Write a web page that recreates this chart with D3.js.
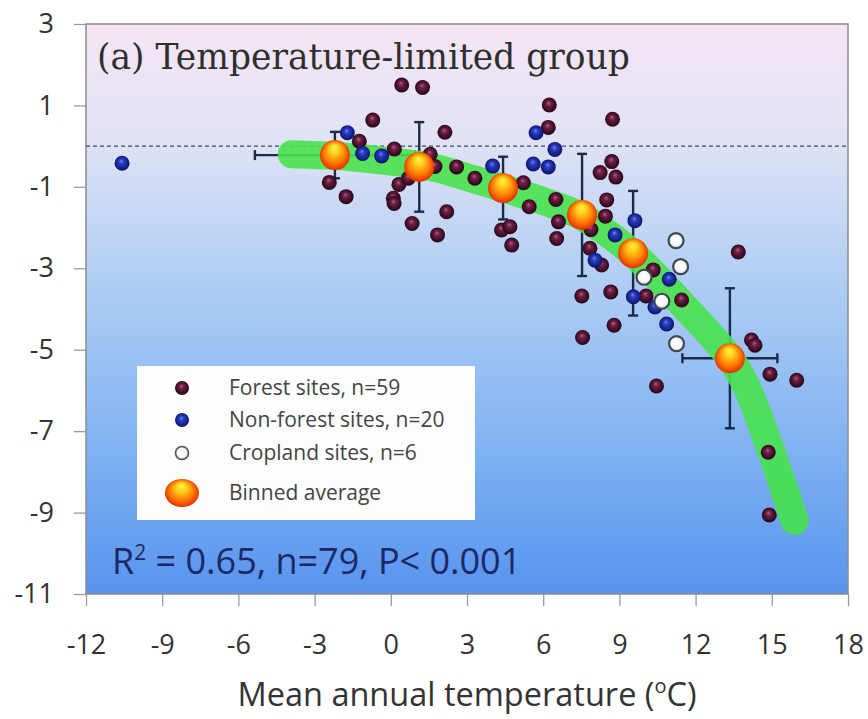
<!DOCTYPE html>
<html>
<head>
<meta charset="utf-8">
<script src="https://cdn.jsdelivr.net/npm/d3@7"></script>
<style>
  body { margin: 0; background: #ffffff; }
  svg { display: block; }
</style>
</head>
<body>
<svg id="chart" width="868" height="719"></svg>
<script>
// ---- data ----
const xTickValues = [-12, -9, -6, -3, 0, 3, 6, 9, 12, 15, 18];
const yTickValues = [3, 1, -1, -3, -5, -7, -9, -11];

// forest sites (mean annual temperature, response)
const forestX = [0.43, 1.25, -0.71, -1.24, 0.14, -2.42, -1.76, 0.32, 0.10, 0.13, 0.84, 1.84, 2.13, 1.55, 2.59, 3.31, 2.20,
  6.24, 8.73, 6.20, 5.22, 6.50, 5.45, 4.36, 4.69, 4.76, 6.60, 6.53, 8.24, 8.70, 8.86, 8.50, 8.45, 7.88, 7.84, 8.30,
  10.33, 7.52, 8.66, 10.05, 11.45, 8.79, 7.55, 10.46, 13.68, 14.20, 14.34, 14.93, 15.98, 14.86, 14.90, 0.69, 1.74];
const forestY = [1.50, 1.44, 0.64, 0.12, -0.07, -0.89, -1.24, -0.94, -1.28, -1.41, -1.90, -2.18, 0.34, -0.20, -0.51, -0.79, -1.61,
  1.01, 0.66, 0.46, -0.90, -1.31, -1.49, -2.06, -1.98, -2.43, -1.86, -2.27, -0.65, -0.38, -0.76, -1.32, -1.72, -2.05, -2.51, -2.92,
  -3.04, -3.68, -3.58, -3.68, -3.78, -4.40, -4.70, -5.89, -2.60, -4.76, -4.89, -5.60, -5.75, -7.52, -9.06, -0.79, -0.50];

// non-forest sites
const nonForestX = [-10.58, -1.71, -1.11, -0.36, 5.72, 6.46, 5.61, 6.20, 4.01, 8.83, 9.61, 8.04, 10.96, 9.55, 10.40, 10.86];
const nonForestY = [-0.42, 0.33, -0.18, -0.24, 0.33, -0.08, -0.44, -0.51, -0.49, -2.18, -1.83, -2.80, -3.27, -3.70, -3.95, -4.37];

// cropland sites
const cropX = [11.23, 11.41, 9.97, 10.67, 11.25];
const cropY = [-2.32, -2.96, -3.22, -3.81, -4.85];

// binned averages with error bars
const binX = [-2.20, 1.12, 4.42, 7.53, 9.54, 13.35];
const binY = [-0.22, -0.51, -1.03, -1.69, -2.63, -5.21];
const binXErr = [3.15, 0, 0, 0, 0, 1.87];
const binYErr = [0.57, 1.10, 0.77, 1.50, 1.53, 1.72];

// fitted trend (green band)
const fitX = [-3.9, -2.0, 0.0, 1.5, 3.3, 4.4, 6.0, 7.5, 9.5, 11.5, 13.35, 14.0, 15.0, 15.9];
const fitY = [-0.20, -0.25, -0.38, -0.50, -0.82, -1.03, -1.35, -1.72, -2.62, -3.90, -5.20, -5.90, -7.54, -9.20];

const legendLabels = ["Forest sites, n=59", "Non-forest sites, n=20", "Cropland sites, n=6", "Binned average"];

// ---- layout ----
const svg = d3.select("#chart");
const plotL = 86, plotR = 848, plotT = 24, plotB = 594;
const x = d3.scaleLinear().domain([-12, 18]).range([plotL, plotR]);
const y = d3.scaleLinear().domain([-11, 3]).range([plotB, plotT]);

const defs = svg.append("defs");

// plot background gradient
const bg = defs.append("linearGradient").attr("id", "bgGrad")
  .attr("x1", 0).attr("y1", 0).attr("x2", 0).attr("y2", 1);
[[0, "#f6e5f4"], [0.2, "#e0e3f5"], [0.45, "#b0cef4"], [0.75, "#7fb2f2"], [1, "#5893ee"]]
  .forEach(([o, c]) => bg.append("stop").attr("offset", o).attr("stop-color", c));

function sphere(id, stops, fx, fy) {
  const g = defs.append("radialGradient").attr("id", id)
    .attr("cx", "50%").attr("cy", "50%").attr("r", "55%")
    .attr("fx", fx).attr("fy", fy);
  stops.forEach(([o, c]) => g.append("stop").attr("offset", o).attr("stop-color", c));
}
sphere("forestGrad", [[0, "#b8607e"], [0.3, "#6e2044"], [0.75, "#3a0c24"], [1, "#1e0612"]], "45%", "35%");
sphere("blueGrad", [[0, "#6d86ee"], [0.3, "#2a3cc0"], [0.75, "#141f88"], [1, "#0a0f4c"]], "45%", "35%");
sphere("cropGrad", [[0, "#ffffff"], [0.6, "#f7f7f7"], [1, "#cfd3d6"]], "45%", "40%");
sphere("binGrad", [[0, "#fff44a"], [0.3, "#ffcc1a"], [0.65, "#ff7a06"], [0.9, "#e83a00"], [1, "#c02400"]], "48%", "22%");

// background
svg.append("rect").attr("x", plotL).attr("y", plotT)
  .attr("width", plotR - plotL).attr("height", plotB - plotT)
  .attr("fill", "url(#bgGrad)");

// axes
const xAxis = svg.append("g").attr("transform", `translate(0,${plotB})`)
  .call(d3.axisBottom(x).tickValues(xTickValues).tickSize(12).tickPadding(29));
const yAxis = svg.append("g").attr("transform", `translate(${plotL},0)`)
  .call(d3.axisLeft(y).tickValues(yTickValues).tickSize(12).tickPadding(20));
[xAxis, yAxis].forEach(a => {
  a.select(".domain").remove();
  a.selectAll(".tick line").attr("stroke", "#9a9a9a").attr("stroke-width", 1.3);
  a.selectAll(".tick text").attr("fill", "#333333")
    .style("font-family", "'Open Sans', sans-serif").style("font-size", "27px")
    .text(d => d < 0 ? "-" + Math.abs(d) : String(d));
});

// frame
svg.append("rect").attr("x", plotL).attr("y", plotT)
  .attr("width", plotR - plotL).attr("height", plotB - plotT)
  .attr("fill", "none").attr("stroke", "#8c8c8c").attr("stroke-width", 1.5);

// zero reference line
svg.append("line")
  .attr("x1", plotL).attr("x2", plotR).attr("y1", y(0)).attr("y2", y(0))
  .attr("stroke", "#3c4a6a").attr("stroke-width", 1.2).attr("stroke-dasharray", "4,3");

// error bars
const errColor = "#1c2a48", cap = 5;
const eb = svg.append("g").attr("stroke", errColor).attr("stroke-width", 2.4);
binX.forEach((bx, i) => {
  const cx = x(bx), cy = y(binY[i]);
  if (binYErr[i] > 0) {
    const y1 = y(binY[i] + binYErr[i]), y2 = y(binY[i] - binYErr[i]);
    eb.append("line").attr("x1", cx).attr("x2", cx).attr("y1", y1).attr("y2", y2);
    eb.append("line").attr("x1", cx - cap).attr("x2", cx + cap).attr("y1", y1).attr("y2", y1);
    eb.append("line").attr("x1", cx - cap).attr("x2", cx + cap).attr("y1", y2).attr("y2", y2);
  }
  if (binXErr[i] > 0) {
    const x1 = x(bx - binXErr[i]), x2 = x(bx + binXErr[i]);
    eb.append("line").attr("x1", x1).attr("x2", x2).attr("y1", cy).attr("y2", cy);
    eb.append("line").attr("x1", x1).attr("x2", x1).attr("y1", cy - cap).attr("y2", cy + cap);
    eb.append("line").attr("x1", x2).attr("x2", x2).attr("y1", cy - cap).attr("y2", cy + cap);
  }
});

// fitted band
const fitLine = d3.line().x(d => x(d[0])).y(d => y(d[1])).curve(d3.curveCatmullRom);
svg.append("path")
  .attr("d", fitLine(fitX.map((v, i) => [v, fitY[i]])))
  .attr("fill", "none").attr("stroke", "#48e24c").attr("stroke-opacity", 0.9)
  .attr("stroke-width", 28).attr("stroke-linecap", "round").attr("stroke-linejoin", "round");

// site points
const r = 7.5;
function drawPoints(xs, ys, fill, stroke, sw) {
  svg.append("g").selectAll("circle").data(xs.map((v, i) => [v, ys[i]])).join("circle")
    .attr("cx", d => x(d[0])).attr("cy", d => y(d[1])).attr("r", r)
    .attr("fill", fill).attr("stroke", stroke).attr("stroke-width", sw);
}
drawPoints(forestX, forestY, "url(#forestGrad)", "none", 0);
drawPoints(nonForestX, nonForestY, "url(#blueGrad)", "none", 0);
drawPoints(cropX, cropY, "url(#cropGrad)", "#3e4850", 2.2);

// binned averages
svg.append("g").selectAll("circle").data(binX.map((v, i) => [v, binY[i]])).join("circle")
  .attr("cx", d => x(d[0])).attr("cy", d => y(d[1])).attr("r", 15)
  .attr("fill", "url(#binGrad)");

// title
svg.append("text").attr("x", 97).attr("y", 69)
  .style("font-family", "'DejaVu Serif', serif").style("font-size", "34.5px")
  .attr("fill", "#2e2e2e").text("(a) Temperature-limited group");

// legend
const lg = svg.append("g");
lg.append("rect").attr("x", 137).attr("y", 366).attr("width", 338).attr("height", 154).attr("fill", "#fdfdfd");
const rowsY = [388, 420, 453, 493];
lg.append("circle").attr("cx", 182).attr("cy", rowsY[0]).attr("r", 7).attr("fill", "url(#forestGrad)");
lg.append("circle").attr("cx", 182).attr("cy", rowsY[1]).attr("r", 7).attr("fill", "url(#blueGrad)");
lg.append("circle").attr("cx", 182).attr("cy", rowsY[2]).attr("r", 6.5).attr("fill", "url(#cropGrad)")
  .attr("stroke", "#555").attr("stroke-width", 1.6);
lg.append("ellipse").attr("cx", 182).attr("cy", rowsY[3]).attr("rx", 17).attr("ry", 14).attr("fill", "url(#binGrad)");
legendLabels.forEach((t, i) => {
  lg.append("text").attr("x", 229).attr("y", rowsY[i]).attr("dy", "0.35em")
    .style("font-family", "'Open Sans', sans-serif").style("font-size", "21px")
    .attr("fill", "#444").text(t);
});

// statistics
const stat = svg.append("text").attr("x", 112).attr("y", 574)
  .style("font-family", "'Open Sans', sans-serif").style("font-size", "36px").attr("fill", "#1b2a66");
stat.append("tspan").text("R");
stat.append("tspan").attr("dy", -14).style("font-size", "21px").text("2");
stat.append("tspan").attr("dy", 14).text(" = 0.65, n=79, P< 0.001");

// x axis title
const xt = svg.append("text").attr("x", (plotL + plotR) / 2).attr("y", 706).attr("text-anchor", "middle")
  .style("font-family", "'Open Sans', sans-serif").style("font-size", "32.5px").attr("fill", "#333");
xt.append("tspan").text("Mean annual temperature (");
xt.append("tspan").attr("dy", -13).style("font-size", "20px").text("o");
xt.append("tspan").attr("dy", 13).text("C)");
</script>
</body>
</html>
